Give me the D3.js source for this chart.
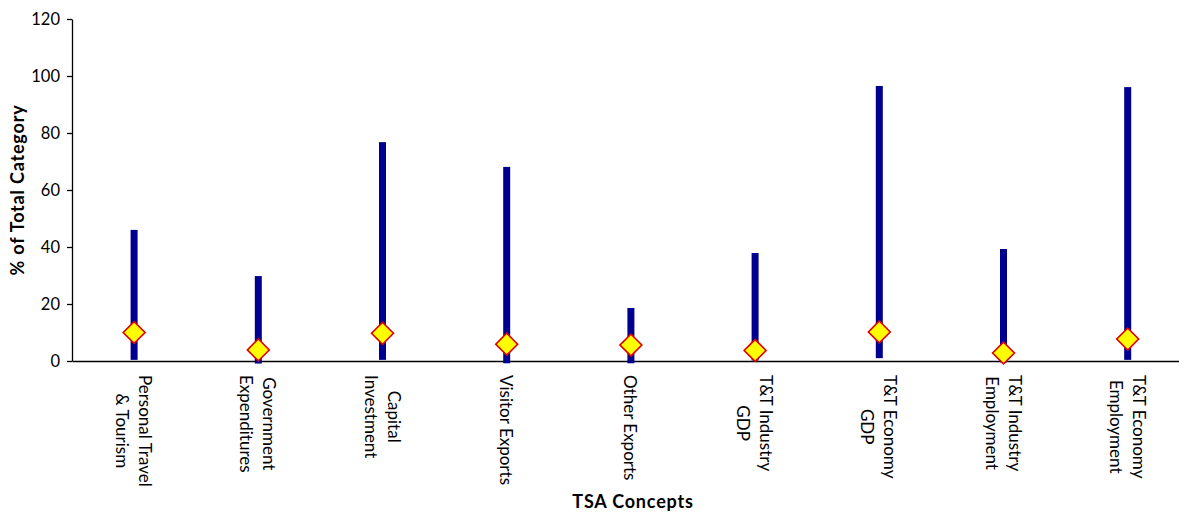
<!DOCTYPE html>
<html><head><meta charset="utf-8">
<script src="https://cdn.jsdelivr.net/npm/d3@7"></script>
<style>body{margin:0;background:#fff}svg{display:block}text{font-family:Lato,"Open Sans",sans-serif}</style>
</head><body><svg id="c" width="1179" height="513"></svg>
<script>
const categories = [
  ["Personal Travel","& Tourism"],
  ["Government","Expenditures"],
  ["Capital","Investment"],
  ["Visitor Exports"],
  ["Other Exports"],
  ["T&T Industry","GDP"],
  ["T&T Economy","GDP"],
  ["T&T Industry","Employment"],
  ["T&T Economy","Employment"]
];
const highValues = [46.0, 29.8, 76.8, 68.1, 18.6, 37.9, 96.5, 39.3, 96.1];
const lowValues  = [0.4, -0.9, 0.4, -0.8, -0.8, 0.2, 1.0, -0.5, 0.4];
const pointValues = [10.0, 3.9, 9.7, 5.9, 5.6, 3.7, 10.2, 2.8, 7.7];
const yTicks = [0, 20, 40, 60, 80, 100, 120];

(function(){
const svg = d3.select("#c");
const mLeft = 72, mTop = 19, mBottom = 361;
const bandW = 124.2;
const x = d3.scaleBand().domain(d3.range(categories.length)).range([mLeft, mLeft + bandW * categories.length]).padding(0);
const y = d3.scaleLinear().domain([0, 120]).range([mBottom, mTop]);

const yAxis = d3.axisLeft(y).tickValues(yTicks).tickSize(5).tickPadding(7).tickSizeOuter(0);
const gy = svg.append("g").attr("transform", `translate(${mLeft},0)`).call(yAxis);
gy.select(".domain").attr("stroke", "#000").attr("stroke-width", 1.3);
gy.selectAll(".tick line").attr("stroke", "#000").attr("stroke-width", 1.3);
gy.selectAll(".tick text").attr("font-size", 16.5).attr("fill", "#000").attr("font-family", "Lato");

const xAxis = d3.axisBottom(x).tickSize(0).tickFormat("");
const gx = svg.append("g").attr("transform", `translate(0,${mBottom})`).call(xAxis);
gx.select(".domain").attr("stroke", "#000").attr("stroke-width", 1.3);

svg.append("g").selectAll("rect").data(highValues).join("rect")
  .attr("x", (d, i) => x(i) + x.bandwidth() / 2 - 3.5)
  .attr("width", 7)
  .attr("y", d => y(d))
  .attr("height", (d, i) => y(lowValues[i]) - y(d))
  .attr("fill", "#000090");

const sym = d3.symbol().type(d3.symbolSquare).size(15.5 * 15.5);
svg.append("g").selectAll("path").data(pointValues).join("path")
  .attr("d", sym)
  .attr("transform", (d, i) => `translate(${x(i) + x.bandwidth() / 2},${y(d)}) rotate(45)`)
  .attr("fill", "#ffff00").attr("stroke", "#e00000").attr("stroke-width", 1.6);

const lh = 23;
const labs = svg.append("g").selectAll("g").data(categories).join("g")
  .attr("transform", (d, i) => `translate(${x(i) + x.bandwidth() / 2},375) rotate(90)`);
labs.each(function(lines) {
  const g = d3.select(this);
  const ts = lines.map((t, j) => g.append("text")
    .attr("font-size", 17).attr("fill", "#000")
    .attr("dominant-baseline", "central")
    .attr("text-anchor", "middle")
    .attr("y", (j - (lines.length - 1) / 2) * lh)
    .text(t));
  const L = d3.max(ts, t => t.node().getComputedTextLength());
  ts.forEach(t => t.attr("x", L / 2));
});

svg.append("text").attr("transform", "translate(24,190) rotate(-90)")
  .attr("text-anchor", "middle").attr("font-size", 18).attr("font-weight", "bold")
  .attr("letter-spacing", 0.8).text("% of Total Category");
svg.append("text").attr("x", 633).attr("y", 508)
  .attr("text-anchor", "middle").attr("font-size", 18).attr("font-weight", "bold")
  .attr("letter-spacing", 0.8).text("TSA Concepts");
})();
</script></body></html>
